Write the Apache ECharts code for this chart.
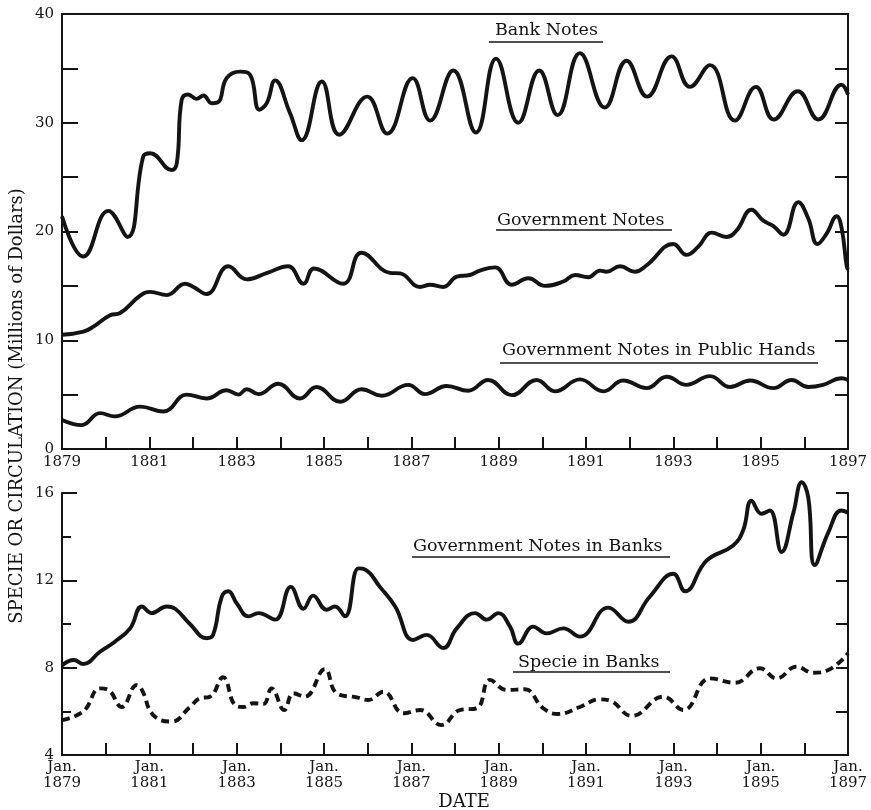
<!DOCTYPE html>
<html><head><meta charset="utf-8">
<script src="https://cdn.jsdelivr.net/npm/echarts@6/dist/echarts.min.js"></script>
<style>html,body{margin:0;padding:0;background:#fff}#c{width:871px;height:810px}</style>
</head><body><div id="c"></div>
<script>
// ---------- DATA (millions of dollars, x = decimal year) ----------
const yearTicksTop = [1879, 1881, 1883, 1885, 1887, 1889, 1891, 1893, 1895, 1897];

const bankNotesX = [1879.0, 1879.49, 1880.06, 1880.50, 1880.86, 1881.02, 1881.51, 1881.63, 1881.74, 1881.89, 1882.08, 1882.24, 1882.43, 1882.58, 1882.77, 1883.08, 1883.31, 1883.52, 1883.69, 1883.88, 1884.22, 1884.49, 1884.95, 1885.35, 1885.99, 1886.45, 1887.03, 1887.43, 1887.96, 1888.48, 1888.94, 1889.45, 1889.93, 1890.35, 1890.86, 1891.43, 1891.93, 1892.40, 1892.96, 1893.38, 1893.84, 1894.41, 1894.89, 1895.30, 1895.85, 1896.32, 1896.85, 1897.0];
const bankNotesY = [21.4, 17.7, 21.9, 19.5, 26.9, 27.2, 25.65, 26.3, 32.1, 32.6, 32.2, 32.5, 31.8, 31.9, 34.1, 34.7, 34.4, 31.2, 31.8, 33.9, 30.9, 28.4, 33.8, 28.9, 32.4, 29.0, 34.1, 30.2, 34.8, 29.1, 35.9, 30.0, 34.8, 30.7, 36.4, 31.4, 35.7, 32.4, 36.1, 33.3, 35.3, 30.2, 33.3, 30.3, 32.9, 30.3, 33.5, 32.6];

const govNotesX = [1879.0, 1879.49, 1879.72, 1880.10, 1880.33, 1880.79, 1881.02, 1881.40, 1881.82, 1882.01, 1882.31, 1882.81, 1883.23, 1883.70, 1884.18, 1884.53, 1884.77, 1885.44, 1885.86, 1886.51, 1886.74, 1887.20, 1887.43, 1887.73, 1888.04, 1888.34, 1888.57, 1888.92, 1889.30, 1889.68, 1890.06, 1890.48, 1890.75, 1891.05, 1891.32, 1891.47, 1891.78, 1892.12, 1892.39, 1893.00, 1893.30, 1893.57, 1893.88, 1894.22, 1894.45, 1894.79, 1895.06, 1895.29, 1895.52, 1895.86, 1896.09, 1896.30, 1896.51, 1896.74, 1896.85, 1896.97, 1897.0];
const govNotesY = [10.5, 10.8, 11.25, 12.3, 12.5, 14.1, 14.45, 14.15, 15.2, 14.9, 14.25, 16.8, 15.6, 16.2, 16.8, 15.2, 16.6, 15.2, 18.05, 16.2, 16.15, 14.9, 15.1, 14.9, 15.85, 16.0, 16.4, 16.7, 15.1, 15.7, 15.0, 15.4, 16.0, 15.8, 16.4, 16.3, 16.8, 16.3, 16.9, 18.85, 17.85, 18.6, 19.9, 19.5, 20.1, 22.0, 21.0, 20.5, 19.7, 22.7, 21.2, 18.85, 19.8, 21.4, 20.4, 16.8, 16.5];

const publicHandsX = [1879.0, 1879.45, 1879.87, 1880.21, 1880.79, 1881.32, 1881.86, 1882.31, 1882.77, 1883.04, 1883.23, 1883.50, 1883.95, 1884.45, 1884.83, 1885.37, 1885.86, 1886.32, 1886.93, 1887.31, 1887.81, 1888.30, 1888.76, 1889.30, 1889.87, 1890.29, 1890.86, 1891.40, 1891.85, 1892.39, 1892.85, 1893.30, 1893.84, 1894.30, 1894.76, 1895.29, 1895.71, 1896.09, 1896.43, 1896.85, 1897.0];
const publicHandsY = [2.67, 2.2, 3.3, 3.0, 3.9, 3.45, 5.0, 4.65, 5.4, 5.0, 5.5, 5.05, 6.0, 4.65, 5.7, 4.35, 5.5, 4.9, 5.9, 5.05, 5.8, 5.35, 6.35, 4.95, 6.35, 5.3, 6.4, 5.3, 6.3, 5.6, 6.65, 5.9, 6.7, 5.7, 6.3, 5.6, 6.35, 5.7, 5.9, 6.5, 6.35];

const govInBanksX = [1879.0, 1879.27, 1879.49, 1879.87, 1880.21, 1880.56, 1880.83, 1881.05, 1881.40, 1881.59, 1881.93, 1882.31, 1882.46, 1882.66, 1882.81, 1883.0, 1883.27, 1883.50, 1883.88, 1884.24, 1884.53, 1884.75, 1885.06, 1885.25, 1885.48, 1885.79, 1885.94, 1886.28, 1886.63, 1887.04, 1887.35, 1887.73, 1888.04, 1888.46, 1888.73, 1888.99, 1889.26, 1889.45, 1889.79, 1890.10, 1890.48, 1890.86, 1891.51, 1891.97, 1892.46, 1893.00, 1893.27, 1893.76, 1894.37, 1894.60, 1894.79, 1895.02, 1895.21, 1895.48, 1895.75, 1895.94, 1896.09, 1896.24, 1896.55, 1896.85, 1897.0];
const govInBanksY = [8.1, 8.35, 8.17, 8.73, 9.19, 9.8, 10.8, 10.5, 10.8, 10.7, 10.0, 9.35, 9.5, 11.25, 11.5, 10.95, 10.35, 10.5, 10.2, 11.7, 10.7, 11.3, 10.65, 10.8, 10.35, 12.55, 12.5, 11.7, 10.8, 9.27, 9.5, 8.9, 9.8, 10.5, 10.2, 10.5, 9.88, 9.1, 9.88, 9.57, 9.8, 9.42, 10.75, 10.1, 11.25, 12.3, 11.5, 12.9, 13.6, 14.3, 15.65, 15.05, 15.2, 13.3, 15.1, 16.5, 15.8, 12.7, 14.2, 15.2, 15.1];

const specieX = [1879.0, 1879.49, 1879.87, 1880.06, 1880.37, 1880.71, 1880.83, 1881.09, 1881.51, 1881.93, 1882.16, 1882.39, 1882.69, 1882.96, 1883.15, 1883.38, 1883.61, 1883.80, 1884.09, 1884.30, 1884.56, 1885.02, 1885.29, 1885.75, 1886.01, 1886.36, 1886.82, 1887.20, 1887.69, 1888.11, 1888.50, 1888.80, 1889.18, 1889.60, 1890.02, 1890.36, 1890.86, 1891.32, 1891.55, 1892.05, 1892.77, 1893.23, 1893.84, 1894.41, 1894.98, 1895.37, 1895.82, 1896.20, 1896.55, 1897.0];
const specieY = [5.6, 6.0, 7.05, 6.98, 6.2, 7.2, 6.98, 5.83, 5.53, 6.2, 6.6, 6.67, 7.56, 6.29, 6.2, 6.37, 6.34, 7.05, 6.06, 6.83, 6.67, 7.93, 6.83, 6.64, 6.52, 6.9, 5.91, 6.06, 5.37, 6.06, 6.14, 7.44, 6.98, 7.01, 6.14, 5.88, 6.2, 6.55, 6.49, 5.79, 6.67, 6.06, 7.51, 7.31, 7.97, 7.51, 8.05, 7.77, 7.89, 8.66];

const seriesNames = ['Bank Notes', 'Government Notes', 'Government Notes in Public Hands', 'Government Notes in Banks', 'Specie in Banks'];
const yAxisTitle = 'SPECIE OR CIRCULATION (Millions of Dollars)';
const xAxisTitle = 'DATE';

// ---------- CHART ----------
const zip = (xs, ys) => xs.map((x, i) => [x, ys[i]]);
const INK = '#141414';
const FONT = "'DejaVu Serif', serif";
const chart = echarts.init(document.getElementById('c'), null, { renderer: 'canvas' });

const xBase = (gi, fmt) => ({
  type: 'value', gridIndex: gi, min: 1879, max: 1897, interval: 1,
  axisLine: { show: true, onZero: false, lineStyle: { color: INK, width: 2 } },
  axisTick: { show: true, inside: true, length: 12, lineStyle: { color: INK, width: 2 } },
  axisLabel: { show: true, formatter: fmt, color: INK, fontFamily: FONT, fontSize: 15, margin: gi === 0 ? 5 : 4, lineHeight: 16, showMinLabel: true, showMaxLabel: true },
  splitLine: { show: false }
});
const yBase = (gi, pos, min, max, interval, extra) => Object.assign({
  type: 'value', gridIndex: gi, position: pos, min: min, max: max, interval: interval,
  axisLine: { show: true, onZero: false, lineStyle: { color: INK, width: 2 } },
  axisTick: { show: true, inside: true, length: 14, lineStyle: { color: INK, width: 2 } },
  axisLabel: { show: false },
  splitLine: { show: false }
}, extra || {});

const lineSeries = (name, data, xi, yi, dashed) => ({
  name: name, type: 'line', xAxisIndex: xi, yAxisIndex: yi, data: data,
  symbol: 'none', smooth: 0.45, clip: false, silent: true,
  lineStyle: { color: INK, width: 3.9, type: dashed ? [8, 5] : 'solid', cap: 'butt', join: 'round' }
});

const annot = (text, x, y, ux1, ux2, uy) => ([
  { type: 'text', left: x, top: y - 11, silent: true,
    style: { text: text, fill: INK, font: "17.5px 'DejaVu Serif', serif" } },
  { type: 'line', silent: true, shape: { x1: ux1, y1: uy, x2: ux2, y2: uy }, style: { stroke: INK, lineWidth: 1.6 } }
]);

const option = {
  animation: false,
  backgroundColor: '#fff',
  grid: [
    { left: 62, top: 14, width: 786, height: 435, show: true, borderColor: INK, borderWidth: 2, backgroundColor: 'transparent' },
    { left: 62, top: 493, width: 786, height: 262 }
  ],
  xAxis: [
    xBase(0, v => (yearTicksTop.indexOf(v) >= 0 ? String(v) : '')),
    xBase(1, v => (yearTicksTop.indexOf(v) >= 0 ? 'Jan.\n' + v : ''))
  ],
  yAxis: [
    yBase(0, 'left', 0, 40, 5, {
      axisTick: { show: true, inside: true, length: 16, lineStyle: { color: INK, width: 2 } },
      axisLabel: { show: true, margin: 8, color: INK, fontFamily: FONT, fontSize: 15, formatter: v => (v % 10 === 0 ? String(v) : '') }
    }),
    yBase(0, 'right', 0, 40, 5, { axisTick: { show: true, inside: true, length: 13, lineStyle: { color: INK, width: 2 } } }),
    yBase(1, 'left', 4, 16, 4, {
      axisTick: { show: true, inside: true, length: 15, lineStyle: { color: INK, width: 2 } },
      minorTick: { show: true, splitNumber: 2, length: 9, lineStyle: { color: INK, width: 2 } },
      axisLabel: { show: true, margin: 8, color: INK, fontFamily: FONT, fontSize: 15 }
    }),
    yBase(1, 'right', 4, 16, 2, { axisTick: { show: true, inside: true, length: 12, lineStyle: { color: INK, width: 2 } } })
  ],
  series: [
    lineSeries(seriesNames[0], zip(bankNotesX, bankNotesY), 0, 0, false),
    lineSeries(seriesNames[1], zip(govNotesX, govNotesY), 0, 0, false),
    lineSeries(seriesNames[2], zip(publicHandsX, publicHandsY), 0, 0, false),
    lineSeries(seriesNames[3], zip(govInBanksX, govInBanksY), 1, 2, false),
    lineSeries(seriesNames[4], zip(specieX, specieY), 1, 2, true)
  ],
  graphic: [].concat(
    annot(seriesNames[0], 495, 32, 489, 603, 42),
    annot(seriesNames[1], 497, 222, 496, 672, 230),
    annot(seriesNames[2], 502, 352, 500, 818, 363),
    annot(seriesNames[3], 413, 548, 412, 670, 557),
    annot(seriesNames[4], 518, 664, 513, 670, 672),
    [
      { type: 'text', x: 17, y: 406, rotation: Math.PI / 2, silent: true,
        style: { text: yAxisTitle, fill: INK, font: "18px 'DejaVu Serif', serif", align: 'center', verticalAlign: 'middle' } },
      { type: 'text', x: 464, y: 802, silent: true,
        style: { text: xAxisTitle, fill: INK, font: "18px 'DejaVu Serif', serif", align: 'center', verticalAlign: 'middle' } }
    ]
  )
};
chart.setOption(option);
</script>
</body></html>
